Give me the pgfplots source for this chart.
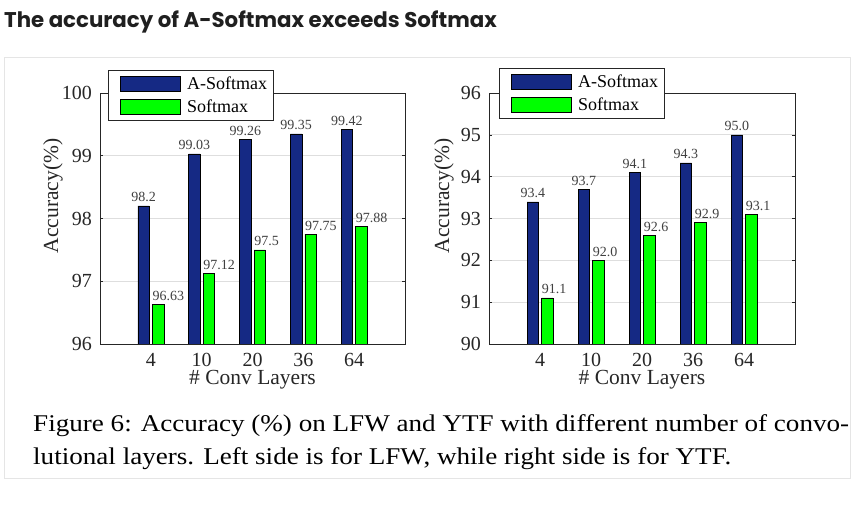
\documentclass[border=0pt]{standalone}
\usepackage{fontspec}
\setmainfont{Liberation Serif}
\newfontfamily\titlefont{Poppins}
\usepackage{pgfplots}
\pgfplotsset{compat=1.18}
\definecolor{abar}{RGB}{21,41,132}
\definecolor{sbar}{RGB}{0,255,0}
\definecolor{axgray}{RGB}{38,38,38}
\definecolor{gridgray}{RGB}{222,222,222}
\pgfplotsset{
  accstyle/.style={
    scale only axis,
    anchor=south west,
    height=251pt,
    xmin=0, xmax=6,
    xtick={1,2,3,4,5},
    xticklabels={4,10,20,36,64},
    xtick style={draw=none},
    ytick pos=both,
    tick align=inside,
    major tick length=3pt,
    ytick style={axgray, line width=0.6pt},
    axis line style={axgray, line width=0.9pt},
    ymajorgrids,
    grid style={gridgray, line width=0.7pt},
    /pgf/number format/assume math mode=true,
    tick label style={font=\fontsize{20}{20}\selectfont, text=axgray},
    xticklabel style={anchor=base, yshift=-20pt, inner sep=0pt, text depth=0pt},
    yticklabel style={anchor=east, xshift=-8pt, inner sep=0pt},
    label style={font=\fontsize{21.5}{21.5}\selectfont, text=axgray},
    xlabel={\# Conv Layers},
    ylabel={Accuracy(\%)},
    xlabel style={at={(axis description cs:0.5,-0.1633)}, anchor=base, inner sep=0pt, text height=0.7em},
    ybar=3pt,
    bar width=0.225,
    nodes near coords=\pgfplotspointmeta,
    point meta=explicit symbolic,
    every node near coord/.append style={font=\fontsize{14}{14}\selectfont, text=black!75, yshift=4pt, inner sep=0pt},
    legend cell align=left,
    legend image code/.code={\path (0pt,0pt); \draw[#1, line width=0.7pt, draw=black] (6.5pt,-7.5pt) rectangle (66.5pt,7.5pt);},
    legend style={draw=axgray, line width=0.9pt, fill=white,
      font=\fontsize{18}{18}\selectfont, text=black,
      inner xsep=5.5pt, inner ysep=5.75pt, row sep=6.5pt,
      nodes={inner sep=1pt},
      /tikz/every odd column/.append style={column sep=5pt}},
  },
  abarplot/.style={fill=abar, draw=black, line width=0.5pt,
    every node near coord/.append style={anchor=base}},
  sbarplot/.style={fill=sbar, draw=black, line width=0.5pt,
    every node near coord/.append style={anchor=base west, xshift=-5.7pt}},
}
\begin{document}
\begin{tikzpicture}[x=1pt,y=1pt]
\useasboundingbox (0,0) rectangle (858,508);
\node[anchor=base west, inner sep=0pt, text=black!88] at (4,480.7) {\titlefont\bfseries\fontsize{21.3}{21.3}\selectfont The accuracy of A-Softmax exceeds Softmax};
\draw[black!10, line width=1pt] (4,30) rectangle (850,450);

\begin{axis}[accstyle, at={(100pt,164pt)}, width=305pt,
  ymin=96, ymax=100, ytick={96,97,98,99,100},
  ylabel style={at={(axis description cs:-0.154,0.59)}, anchor=center},
  legend style={at={(axis description cs:0.0262,1.092)}, anchor=north west}]
\addplot[abarplot] coordinates {
  (1,98.2) [98.2] (2,99.03) [99.03] (3,99.26) [99.26] (4,99.35) [99.35] (5,99.42) [99.42]};
\addplot[sbarplot] coordinates {
  (1,96.63) [96.63] (2,97.12) [97.12] (3,97.5) [97.5] (4,97.75) [97.75] (5,97.88) [97.88]};
\legend{A-Softmax,Softmax}
\end{axis}

\begin{axis}[accstyle, at={(489pt,164pt)}, width=306pt,
  ymin=90, ymax=96, ytick={90,91,92,93,94,95,96},
  ylabel style={at={(axis description cs:-0.147,0.59)}, anchor=center},
  legend style={at={(axis description cs:0.033,1.1)}, anchor=north west}]
\addplot[abarplot] coordinates {
  (1,93.4) [93.4] (2,93.7) [93.7] (3,94.1) [94.1] (4,94.33) [94.3] (5,95.0) [95.0]};
\addplot[sbarplot] coordinates {
  (1,91.1) [91.1] (2,92.0) [92.0] (3,92.6) [92.6] (4,92.9) [92.9] (5,93.1) [93.1]};
\legend{A-Softmax,Softmax}
\end{axis}

\node[anchor=base west, inner sep=0pt] at (33,76) {\scalebox{1.129}[1]{\fontsize{24}{24}\selectfont Figure 6: Accuracy (\%) on LFW and YTF with different number of convo-}};
\node[anchor=base west, inner sep=0pt] at (33,43) {\scalebox{1.129}[1]{\fontsize{24}{24}\selectfont lutional layers. Left side is for LFW, while right side is for YTF.}};
\end{tikzpicture}
\end{document}
